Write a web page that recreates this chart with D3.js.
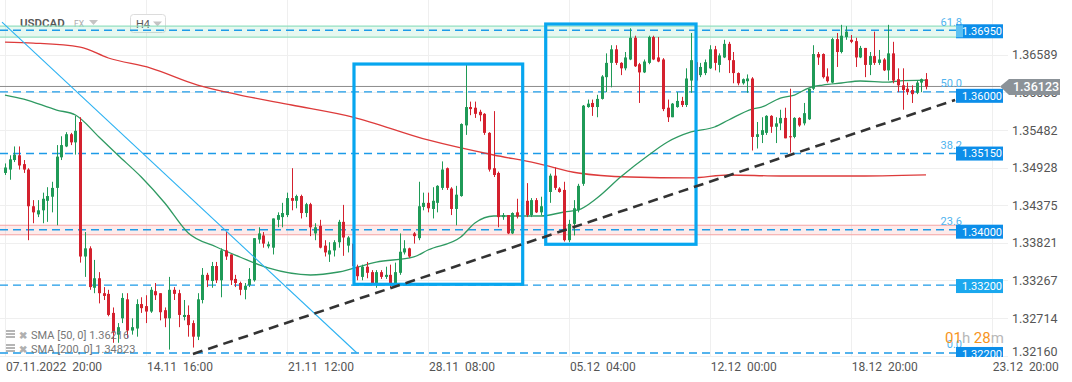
<!DOCTYPE html>
<html>
<head>
<meta charset="utf-8">
<script src="https://cdn.jsdelivr.net/npm/d3@7"></script>
<style>
html, body { margin: 0; padding: 0; background: #fff; }
svg { display: block; font-family: Roboto, "Noto Sans", sans-serif; }
text { white-space: pre; }
</style>
</head>
<body>
<svg id="chart" width="1072" height="382"></svg>
<script>
// USDCAD H4 candles (one entry per bar)
const opens = [
  1.3485,1.3490,1.3504,1.3511,1.3498,1.3490,1.3436,1.3424,1.3430,1.3444,
  1.3450,1.3463,1.3508,1.3524,1.3542,1.3530,1.3560,1.3362,1.3374,1.3316,
  1.3330,1.3308,1.3307,1.3279,1.3247,1.3271,1.3299,1.3253,1.3256,1.3292,
  1.3289,1.3281,1.3311,1.3308,1.3283,1.3271,1.3313,1.3308,1.3273,1.3276,
  1.3264,1.3244,1.3298,1.3335,1.3326,1.3348,1.3327,1.3371,1.3365,1.3329,
  1.3323,1.3313,1.3320,1.3327,1.3387,1.3393,1.3377,1.3375,1.3416,1.3420,
  1.3423,1.3448,1.3444,1.3451,1.3426,1.3439,1.3396,1.3407,1.3378,1.3365,
  1.3371,1.3383,1.3413,1.3378,1.3381,1.3347,1.3332,1.3347,1.3339,1.3323,
  1.3339,1.3332,1.3335,1.3323,1.3338,1.3368,1.3374,1.3396,1.3389,1.3435,
  1.3441,1.3432,1.3441,1.3463,1.3492,1.3462,1.3432,1.3451,1.3555,1.3582,
  1.3581,1.3575,1.3572,1.3544,1.3492,1.3485,1.3420,1.3423,1.3396,1.3427,
  1.3420,1.3444,1.3423,1.3445,1.3427,1.3436,1.3457,1.3481,1.3462,1.3460,
  1.3386,1.3410,1.3430,1.3469,1.3582,1.3588,1.3582,1.3594,1.3626,1.3647,
  1.3667,1.3647,1.3639,1.3652,1.3684,1.3645,1.3633,1.3647,1.3685,1.3655,
  1.3652,1.3581,1.3567,1.3582,1.3591,1.3585,1.3621,1.3648,1.3629,1.3632,
  1.3639,1.3667,1.3644,1.3655,1.3675,1.3651,1.3632,1.3617,1.3620,1.3624,
  1.3538,1.3541,1.3544,1.3569,1.3553,1.3558,1.3566,1.3539,1.3538,1.3566,
  1.3558,1.3564,1.3609,1.3660,1.3660,1.3627,1.3618,1.3682,1.3663,1.3685,
  1.3681,1.3679,1.3655,1.3669,1.3644,1.3657,1.3647,1.3652,1.3636,1.3661,
  1.3623,1.3614,1.3609,1.3607,1.3603,1.3618,1.3623
];
const highs = [
  1.3499,1.3511,1.3524,1.3524,1.3504,1.3492,1.3445,1.3445,1.3456,1.3464,
  1.3472,1.3526,1.3539,1.3545,1.3544,1.3569,1.3567,1.3398,1.3377,1.3357,
  1.3339,1.3317,1.3313,1.3287,1.3264,1.3308,1.3308,1.3271,1.3299,1.3302,
  1.3305,1.3317,1.3323,1.3308,1.3287,1.3332,1.3317,1.3313,1.3298,1.3290,
  1.3268,1.3308,1.3345,1.3338,1.3354,1.3354,1.3374,1.3398,1.3365,1.3335,
  1.3325,1.3323,1.3345,1.3389,1.3405,1.3398,1.3384,1.3418,1.3427,1.3441,
  1.3456,1.3492,1.3453,1.3453,1.3441,1.3441,1.3411,1.3416,1.3386,1.3383,
  1.3386,1.3416,1.3438,1.3392,1.3384,1.3350,1.3350,1.3354,1.3342,1.3342,
  1.3342,1.3347,1.3350,1.3353,1.3396,1.3386,1.3375,1.3398,1.3472,1.3456,
  1.3456,1.3464,1.3467,1.3502,1.3493,1.3464,1.3466,1.3558,1.3644,1.3590,
  1.3590,1.3578,1.3573,1.3545,1.3576,1.3487,1.3426,1.3423,1.3427,1.3447,
  1.3445,1.3470,1.3448,1.3448,1.3450,1.3453,1.3484,1.3493,1.3464,1.3472,
  1.3416,1.3445,1.3469,1.3585,1.3593,1.3593,1.3600,1.3629,1.3661,1.3673,
  1.3673,1.3648,1.3663,1.3698,1.3687,1.3647,1.3652,1.3687,1.3687,1.3685,
  1.3654,1.3593,1.3588,1.3604,1.3597,1.3639,1.3691,1.3651,1.3647,1.3652,
  1.3673,1.3672,1.3661,1.3681,1.3678,1.3663,1.3633,1.3624,1.3630,1.3626,
  1.3560,1.3567,1.3570,1.3570,1.3567,1.3578,1.3581,1.3609,1.3567,1.3567,
  1.3588,1.3609,1.3673,1.3663,1.3661,1.3639,1.3684,1.3691,1.3703,1.3701,
  1.3688,1.3684,1.3672,1.3669,1.3663,1.3693,1.3666,1.3654,1.3703,1.3678,
  1.3639,1.3639,1.3618,1.3614,1.3621,1.3624,1.3632
];
const lows = [
  1.3482,1.3475,1.3501,1.3490,1.3485,1.3386,1.3411,1.3420,1.3411,1.3413,
  1.3427,1.3408,1.3504,1.3523,1.3526,1.3512,1.3353,1.3332,1.3313,1.3308,
  1.3293,1.3298,1.3274,1.3235,1.3235,1.3264,1.3242,1.3247,1.3244,1.3279,
  1.3264,1.3279,1.3298,1.3268,1.3258,1.3225,1.3298,1.3258,1.3268,1.3244,
  1.3228,1.3239,1.3293,1.3317,1.3316,1.3323,1.3302,1.3357,1.3320,1.3317,
  1.3305,1.3299,1.3317,1.3325,1.3381,1.3375,1.3374,1.3365,1.3405,1.3405,
  1.3420,1.3430,1.3433,1.3418,1.3420,1.3392,1.3386,1.3374,1.3362,1.3354,
  1.3362,1.3375,1.3363,1.3368,1.3345,1.3327,1.3327,1.3330,1.3322,1.3316,
  1.3329,1.3329,1.3317,1.3322,1.3335,1.3365,1.3360,1.3381,1.3386,1.3430,
  1.3427,1.3418,1.3427,1.3460,1.3460,1.3423,1.3408,1.3450,1.3541,1.3570,
  1.3566,1.3561,1.3541,1.3487,1.3479,1.3405,1.3416,1.3395,1.3395,1.3418,
  1.3417,1.3420,1.3420,1.3426,1.3423,1.3430,1.3441,1.3460,1.3456,1.3384,
  1.3383,1.3393,1.3427,1.3466,1.3581,1.3569,1.3567,1.3593,1.3604,1.3611,
  1.3644,1.3629,1.3636,1.3651,1.3641,1.3588,1.3632,1.3645,1.3651,1.3648,
  1.3576,1.3560,1.3567,1.3581,1.3582,1.3582,1.3603,1.3618,1.3626,1.3629,
  1.3638,1.3636,1.3633,1.3654,1.3632,1.3617,1.3614,1.3615,1.3603,1.3518,
  1.3521,1.3529,1.3541,1.3544,1.3529,1.3548,1.3536,1.3515,1.3536,1.3553,
  1.3555,1.3563,1.3607,1.3644,1.3624,1.3618,1.3617,1.3641,1.3661,1.3681,
  1.3676,1.3641,1.3654,1.3626,1.3629,1.3644,1.3644,1.3635,1.3621,1.3617,
  1.3604,1.3578,1.3600,1.3588,1.3601,1.3604,1.3608
];
const closes = [
  1.3493,1.3505,1.3512,1.3496,1.3490,1.3436,1.3427,1.3430,1.3447,1.3451,
  1.3463,1.3509,1.3526,1.3542,1.3530,1.3547,1.3362,1.3374,1.3317,1.3330,
  1.3308,1.3304,1.3276,1.3250,1.3258,1.3301,1.3253,1.3258,1.3292,1.3286,
  1.3281,1.3313,1.3305,1.3280,1.3271,1.3313,1.3307,1.3276,1.3276,1.3261,
  1.3244,1.3299,1.3335,1.3327,1.3348,1.3327,1.3371,1.3362,1.3327,1.3323,
  1.3313,1.3319,1.3329,1.3389,1.3396,1.3381,1.3380,1.3418,1.3423,1.3426,
  1.3448,1.3444,1.3451,1.3426,1.3439,1.3405,1.3405,1.3375,1.3368,1.3371,
  1.3383,1.3413,1.3390,1.3390,1.3348,1.3333,1.3347,1.3338,1.3323,1.3339,
  1.3332,1.3335,1.3323,1.3339,1.3369,1.3374,1.3362,1.3392,1.3436,1.3441,
  1.3433,1.3444,1.3466,1.3490,1.3463,1.3432,1.3453,1.3557,1.3582,1.3579,
  1.3572,1.3570,1.3544,1.3490,1.3482,1.3420,1.3423,1.3396,1.3426,1.3421,
  1.3444,1.3423,1.3445,1.3427,1.3436,1.3445,1.3481,1.3463,1.3457,1.3386,
  1.3410,1.3433,1.3466,1.3584,1.3587,1.3582,1.3594,1.3627,1.3647,1.3667,
  1.3647,1.3639,1.3655,1.3684,1.3642,1.3633,1.3649,1.3685,1.3652,1.3649,
  1.3579,1.3567,1.3587,1.3591,1.3585,1.3624,1.3651,1.3621,1.3641,1.3648,
  1.3667,1.3647,1.3658,1.3675,1.3651,1.3632,1.3617,1.3623,1.3624,1.3538,
  1.3542,1.3548,1.3569,1.3553,1.3558,1.3566,1.3536,1.3538,1.3566,1.3555,
  1.3573,1.3609,1.3660,1.3655,1.3626,1.3620,1.3682,1.3663,1.3687,1.3693,
  1.3678,1.3655,1.3669,1.3644,1.3657,1.3647,1.3652,1.3636,1.3661,1.3621,
  1.3614,1.3607,1.3604,1.3601,1.3618,1.3623,1.3612
];

// moving averages, [bar, value] read at points along each curve
const sma50 = [
  [0,1.35997],[4,1.35938],[11,1.35776],[15,1.35703],[20,1.35379],[24,1.35114],
  [29,1.34790],[34,1.34408],[39,1.33966],[45,1.33760],[50,1.33613],[56,1.33451],
  [65,1.33348],[71,1.33392],[79,1.33539],[87,1.33613],[90,1.33716],[97,1.33907],
  [100,1.34113],[104,1.34216],[114,1.34216],[119,1.34275],[122,1.34305],[126,1.34481],
  [131,1.34790],[137,1.35114],[141,1.35305],[146,1.35453],[151,1.35526],[154,1.35629],
  [159,1.35791],[161,1.35820],[165,1.35953],[168,1.35997],[171,1.36100],[174,1.36144],
  [178,1.36174],[182,1.36203],[188,1.36188],[190,1.36203],[196,1.36216]
];
const sma200 = [
  [0,1.36777],[6,1.36762],[16,1.36703],[22,1.36542],[31,1.36394],[41,1.36144],
  [50,1.35997],[61,1.35850],[74,1.35673],[90,1.35335],[104,1.35114],[113,1.34996],
  [122,1.34849],[133,1.34790],[146,1.34776],[154,1.34820],[165,1.34805],[180,1.34805],
  [196,1.34823]
];

const timeTickBars = [0, 30, 60, 90, 120, 150, 180, 210];
const timeTickLabels = ["07.11.2022  20:00", "14.11  16:00", "21.11  12:00", "28.11  08:00",
                        "05.12  04:00", "12.12  00:00", "18.12  20:00", "23.12  20:00"];
const priceTicks = [1.32160, 1.32714, 1.33267, 1.33821, 1.34375, 1.34928, 1.35482, 1.36035, 1.36589];

const fibPrices = [1.32200, 1.34014, 1.35136, 1.36043, 1.36950];
const fibNames = ["0.0", "23.6", "38.2", "50.0", "61.8"];
const extraLevels = [1.33200];
const levelLabels = [1.36950, 1.36000, 1.35150, 1.34000, 1.33200, 1.32200];
const supplyZone = [1.3685, 1.3701];
const demandZone = [1.3394, 1.3408];
// boxes as [fromBar, toBar, topPrice, bottomPrice]
const boxes = [[74.27, 110.17, 1.36453, 1.33211], [115.07, 147.06, 1.37042, 1.33800]];
const downTrend = [[-0.64, 1.37071], [74.9, 1.32200]];
const upTrend = [[40.0, 1.32185], [202.2, 1.35924]];
const lastPrice = 1.36123;
const smaLegend = ["SMA [50, 0] 1.36216", "SMA [200, 0] 1.34823"];

const W = 1072, plotRight = 1008, plotBottom = 357;
const svg = d3.select("#chart");

const x = d3.scaleLinear().domain([0, 196]).range([5, 926]);
const y = d3.scaleLinear().domain([1.3216, 1.36589]).range([355.7, 54.8]);

svg.append("rect").attr("width", W).attr("height", 382).attr("fill", "#fff");

svg.append("defs").append("clipPath").attr("id", "plot")
  .append("rect").attr("x", 0).attr("y", 0).attr("width", plotRight).attr("height", plotBottom);

// grid
const grid = svg.append("g").attr("stroke", "#efefef").attr("stroke-width", 1);
grid.selectAll("line.h").data(priceTicks).join("line")
  .attr("x1", 0).attr("x2", plotRight)
  .attr("y1", d => Math.round(y(d)) + 0.5).attr("y2", d => Math.round(y(d)) + 0.5);
grid.selectAll("line.v").data(timeTickBars).join("line")
  .attr("x1", d => Math.round(x(d)) + 0.5).attr("x2", d => Math.round(x(d)) + 0.5)
  .attr("y1", 0).attr("y2", plotBottom);

// header
const head = svg.append("g");
head.append("text").attr("x", 20).attr("y", 27).attr("font-size", 11.5).attr("font-weight", 600)
  .attr("fill", "#585858").text("USDCAD");
head.append("text").attr("x", 74).attr("y", 27).attr("font-size", 8.5).attr("fill", "#aaa").text("FX");
head.append("path").attr("d", "M89,20 L98,20 L93.5,25 Z").attr("fill", "#c4c4c4");
head.append("rect").attr("x", 130.5).attr("y", 14.5).attr("width", 35).attr("height", 18).attr("rx", 3)
  .attr("fill", "#fff").attr("stroke", "#dcdcdc");
head.append("text").attr("x", 136).attr("y", 27.5).attr("font-size", 11).attr("fill", "#585858").text("H4");
head.append("path").attr("d", "M153,21.5 L162,21.5 L157.5,26.5 Z").attr("fill", "#c4c4c4");

const plot = svg.append("g").attr("clip-path", "url(#plot)");

// zones
function zone(z, x2, fill, edge) {
  const t = y(z[1]), b = y(z[0]);
  plot.append("rect").attr("x", 0).attr("y", t).attr("width", x2).attr("height", b - t)
    .attr("fill", fill);
  plot.selectAll(null).data([t, b]).join("line")
    .attr("x1", 0).attr("x2", x2).attr("y1", d => d).attr("y2", d => d)
    .attr("stroke", edge).attr("stroke-width", 1.2);
}
zone(supplyZone, 963, "rgba(60,200,140,0.13)", "#93dfc0");
zone(demandZone, 957, "rgba(240,90,90,0.12)", "#f3a5a5");

// dashed fib / level lines
plot.selectAll("line.lvl").data(fibPrices.concat(extraLevels)).join("line")
  .attr("x1", 0).attr("x2", 956)
  .attr("y1", d => y(d)).attr("y2", d => y(d))
  .attr("stroke", "#1d9be8").attr("stroke-width", 1.3).attr("stroke-dasharray", "8,5");

// current price line
plot.append("line").attr("x1", 0).attr("x2", 1000)
  .attr("y1", y(lastPrice)).attr("y2", y(lastPrice))
  .attr("stroke", "#8c8c8c").attr("stroke-width", 1);

// moving averages
const smaLine = d3.line().x(d => x(d[0])).y(d => y(d[1])).curve(d3.curveMonotoneX);
plot.append("path").attr("d", smaLine(sma200)).attr("fill", "none")
  .attr("stroke", "#dd3b3b").attr("stroke-width", 1.3);
plot.append("path").attr("d", smaLine(sma50)).attr("fill", "none")
  .attr("stroke", "#2f9a62").attr("stroke-width", 1.3);

// candles
const bars = d3.range(opens.length);
const up = "#1f9a57", down = "#d4212e";
const cg = plot.append("g");
cg.selectAll("line").data(bars).join("line")
  .attr("x1", i => Math.round(x(i)) + 0.5).attr("x2", i => Math.round(x(i)) + 0.5)
  .attr("y1", i => y(highs[i])).attr("y2", i => y(lows[i]))
  .attr("stroke", i => closes[i] >= opens[i] ? up : down).attr("stroke-width", 1);
cg.selectAll("rect").data(bars).join("rect")
  .attr("x", i => Math.round(x(i)) - 1)
  .attr("y", i => y(Math.max(opens[i], closes[i])))
  .attr("width", 3)
  .attr("height", i => Math.max(1, y(Math.min(opens[i], closes[i])) - y(Math.max(opens[i], closes[i]))))
  .attr("fill", i => closes[i] >= opens[i] ? up : down);

// boxes
plot.selectAll("rect.box").data(boxes).join("rect")
  .attr("x", d => x(d[0])).attr("y", d => y(d[2]))
  .attr("width", d => x(d[1]) - x(d[0])).attr("height", d => y(d[3]) - y(d[2]))
  .attr("fill", "none").attr("stroke", "#07a6ef").attr("stroke-width", 3.2);

// trend lines
const tl = d3.line().x(d => x(d[0])).y(d => y(d[1]));
plot.append("path").attr("d", tl(downTrend)).attr("stroke", "#2cb2f2").attr("stroke-width", 1.1).attr("fill", "none");
plot.append("path").attr("d", tl(upTrend)).attr("stroke", "#333").attr("stroke-width", 2.6)
  .attr("stroke-dasharray", "10,6").attr("fill", "none");

// fib names
svg.selectAll("text.fib").data(fibPrices).join("text")
  .attr("x", 962).attr("y", d => y(d) - 4.5)
  .attr("text-anchor", "end").attr("font-size", 11).attr("fill", "#4fb3ee")
  .text((d, i) => fibNames[i]);

// countdown
const cd = svg.append("text").attr("x", 945).attr("y", 343).attr("font-size", 15);
cd.append("tspan").attr("fill", "#f7941d").text("01");
cd.append("tspan").attr("fill", "#b8b8b8").text("h ");
cd.append("tspan").attr("fill", "#f7941d").text("28");
cd.append("tspan").attr("fill", "#b8b8b8").text("m");

// level labels
const lab = svg.append("g").attr("clip-path", "url(#plot)");
lab.selectAll("rect").data(levelLabels).join("rect")
  .attr("x", 956).attr("y", d => y(d) - 6).attr("width", 47).attr("height", 14)
  .attr("fill", d => extraLevels.includes(d) ? "#1ba8ee" : "#0c8ee9");
lab.append("rect").attr("x", 956).attr("y", y(levelLabels[0]) - 5).attr("width", 7).attr("height", 12)
  .attr("fill", "#5cc0f2");
lab.selectAll("text").data(levelLabels).join("text")
  .attr("x", 962).attr("y", d => y(d) + 1).attr("dy", "0.35em")
  .attr("font-size", 11).attr("fill", "#fff")
  .text(d => d.toFixed(5));

// price axis
svg.selectAll("text.py").data(priceTicks).join("text")
  .attr("x", 1012).attr("y", d => Math.min(351, y(d))).attr("dy", "0.36em")
  .attr("font-size", 12.5).attr("fill", "#555")
  .text(d => d.toFixed(5));

// current price tag
const ty = y(lastPrice);
svg.append("path")
  .attr("d", `M1000,${ty} L1009,${ty - 7.5} L1060,${ty - 7.5} L1060,${ty + 8.5} L1009,${ty + 8.5} Z`)
  .attr("fill", "#8b9298");
svg.append("text").attr("x", 1013).attr("y", ty + 0.5).attr("dy", "0.36em")
  .attr("font-size", 12.5).attr("font-weight", 500).attr("fill", "#fff").text(lastPrice.toFixed(5));

// time axis
svg.selectAll("text.tx").data(timeTickBars).join("text")
  .attr("x", d => x(d) + 1).attr("y", 371)
  .attr("font-size", 12).attr("fill", "#555")
  .text((d, i) => timeTickLabels[i]);

// sma legend
const lg = svg.selectAll("g.lg").data(smaLegend).join("g")
  .attr("transform", (d, i) => `translate(0,${339 + i * 14})`);
lg.each(function() {
  const g = d3.select(this);
  [-9, -6, -3].forEach(o => g.append("rect").attr("x", 6).attr("y", o).attr("width", 9).attr("height", 2).attr("fill", "#b5b5b5"));
  g.append("text").attr("x", 19).attr("y", 0).attr("font-size", 10).attr("font-weight", 700).attr("fill", "#b0b0b0").text("✖");
});
lg.append("text").attr("x", 31).attr("y", 0).attr("font-size", 11).attr("fill", "#777").text(d => d);
</script>
</body>
</html>
